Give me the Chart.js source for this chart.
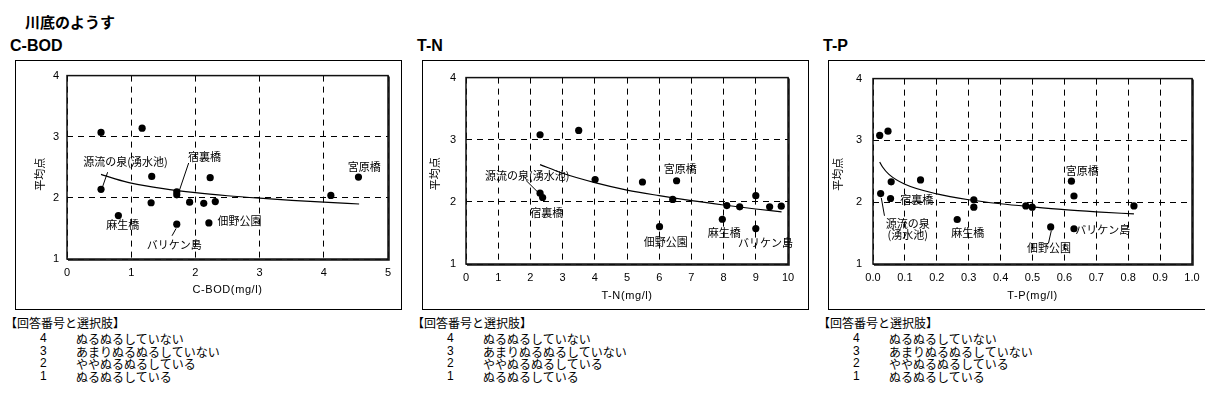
<!DOCTYPE html>
<html><head><meta charset="utf-8">
<script src="https://cdn.jsdelivr.net/npm/chart.js@4.4.1/dist/chart.umd.min.js"></script>
<style>
html,body{margin:0;padding:0;background:#fff;}
body{width:1205px;height:403px;overflow:hidden;position:relative;font-family:"Noto Sans CJK JP",sans-serif;color:#000}
.abs{position:absolute;white-space:nowrap}
.box{position:absolute;top:60px;width:387px;height:250px;border:1px solid #000;box-sizing:border-box;background:#fff}
.box canvas{display:block}
.h1{left:25px;top:13px;font:bold 15px/17px "Noto Sans CJK JP",sans-serif}
.h2{top:38px;font:bold 16px/16px "Liberation Sans",Arial,sans-serif}
.leg{font:12px/13px "Noto Sans CJK JP",sans-serif}
</style></head>
<body>
<div class="abs h1">川底のようす</div>
<div id="root"></div>
<script>
// ---- data ----
const yTicks = [1, 2, 3, 4];
const cbodXTicks = [0, 1, 2, 3, 4, 5];
const tnXTicks = [0, 1, 2, 3, 4, 5, 6, 7, 8, 9, 10];
const tpXTicks = [0, 0.1, 0.2, 0.3, 0.4, 0.5, 0.6, 0.7, 0.8, 0.9, 1.0];
const tpXLabels = ['0.0','0.1','0.2','0.3','0.4','0.5','0.6','0.7','0.8','0.9','1.0'];

const cbodX = [0.53, 1.17, 0.53, 1.32, 2.23, 1.71, 1.71, 1.31, 1.91, 2.13, 2.31, 0.80, 1.71, 2.21, 4.11, 4.54];
const cbodY = [3.07, 3.14, 2.14, 2.35, 2.33, 2.10, 2.05, 1.92, 1.93, 1.91, 1.94, 1.71, 1.57, 1.59, 2.04, 2.34];
const cbodTrendX = [0.53, 0.75, 1.0, 1.5, 2.0, 2.5, 3.0, 3.5, 4.0, 4.55];
const cbodTrendY = [2.385, 2.31, 2.24, 2.15, 2.085, 2.035, 1.995, 1.96, 1.93, 1.90];

const tnX = [2.30, 3.50, 2.30, 2.38, 4.01, 5.48, 6.54, 6.42, 8.10, 8.50, 9.00, 7.96, 9.00, 9.43, 9.79, 6.01];
const tnY = [3.08, 3.15, 2.14, 2.07, 2.36, 2.32, 2.34, 2.04, 1.94, 1.92, 2.10, 1.72, 1.57, 1.92, 1.93, 1.60];
const tnTrendX = [2.3, 3.0, 4.0, 5.0, 6.0, 7.0, 8.0, 9.0, 9.8];
const tnTrendY = [2.60, 2.46, 2.31, 2.19, 2.10, 2.02, 1.95, 1.885, 1.84];

const tpX = [0.021, 0.047, 0.024, 0.057, 0.055, 0.149, 0.316, 0.316, 0.264, 0.479, 0.499, 0.557, 0.622, 0.630, 0.630, 0.818];
const tpY = [3.08, 3.15, 2.14, 2.33, 2.06, 2.36, 2.04, 1.92, 1.72, 1.94, 1.92, 1.60, 2.34, 2.10, 1.57, 1.94];
const tpTrendX = [0.021, 0.03, 0.05, 0.1, 0.2, 0.3, 0.4, 0.5, 0.6, 0.7, 0.818];
const tpTrendY = [2.65, 2.57, 2.45, 2.29, 2.135, 2.04, 1.975, 1.925, 1.88, 1.845, 1.81];

const yTitle = '平均点';
const choiceHeader = '【回答番号と選択肢】';
const choiceNums = ['4', '3', '2', '1'];
const choiceTexts = ['ぬるぬるしていない', 'あまりぬるぬるしていない', 'ややぬるぬるしている', 'ぬるぬるしている'];

// site-name annotations (anchored in data coordinates)
const cbodNotes = [
  {t:'源流の泉(湧水池)', x:0.91, y:2.594, line:[0.633,2.42,0.547,2.16]},
  {t:'宿裏橋', x:2.14, y:2.674, line:[1.895,2.57,1.75,2.12]},
  {t:'宮原橋', x:4.63, y:2.51},
  {t:'麻生橋', x:0.867, y:1.567},
  {t:'佃野公園', x:2.685, y:1.62},
  {t:'バリケン島', x:1.67, y:1.235, line:[1.636,1.38,1.70,1.50]}
];
const tnNotes = [
  {t:'源流の泉(湧水池)', x:1.90, y:2.424, line:[1.865,2.345,2.23,2.157]},
  {t:'宿裏橋', x:2.51, y:1.82},
  {t:'宮原橋', x:6.65, y:2.53},
  {t:'佃野公園', x:6.20, y:1.36},
  {t:'麻生橋', x:8.02, y:1.50},
  {t:'バリケン島', x:9.30, y:1.345}
];
const tpNotes = [
  {t:'源流の泉', x:0.109, y:1.65},
  {t:'(湧水池)', x:0.109, y:1.48, line:[0.036,1.78,0.026,2.07]},
  {t:'宿裏橋', x:0.1375, y:2.04},
  {t:'麻生橋', x:0.297, y:1.50},
  {t:'宮原橋', x:0.656, y:2.50},
  {t:'佃野公園', x:0.552, y:1.26, line:[0.55,1.335,0.559,1.54]},
  {t:'バリケン島', x:0.72, y:1.56}
];

// ---- layout ----
const panels = [
  {name:'C-BOD', left:15, xs:cbodX, ys:cbodY, tx:cbodTrendX, ty:cbodTrendY, ticks:cbodXTicks, labels:null,
   min:0, max:5, notes:cbodNotes, xTitle:'C-BOD(mg/l)', yw:51, xh:50, padTop:11, padRight:13, yPad:8, xTitleOff:30.5, yTitleOff:27, yTitleDy:7},
  {name:'T-N', left:422, xs:tnX, ys:tnY, tx:tnTrendX, ty:tnTrendY, ticks:tnXTicks, labels:null,
   min:0, max:10, notes:tnNotes, xTitle:'T-N(mg/l)', yw:43, xh:45, padTop:13, padRight:20, yPad:10, xTitleOff:31.5, yTitleOff:31, yTitleDy:3},
  {name:'T-P', left:828, xs:tpX, ys:tpY, tx:tpTrendX, ty:tpTrendY, ticks:tpXTicks, labels:tpXLabels,
   min:0, max:1, notes:tpNotes, xTitle:'T-P(mg/l)', yw:44, xh:45, padTop:13, padRight:22, yPad:11, xTitleOff:31.5, yTitleOff:35, yTitleDy:3}
];

const root = document.getElementById('root');
const tickFont = {family:'"Liberation Sans", Arial, sans-serif', size:11};

panels.forEach((p, idx) => {
  const h = document.createElement('div');
  h.className = 'abs h2'; h.style.left = (p.left - 5) + 'px'; h.textContent = p.name;
  root.appendChild(h);

  const box = document.createElement('div');
  box.className = 'box'; box.style.left = p.left + 'px';
  const cv = document.createElement('canvas');
  cv.width = 385; cv.height = 248; cv.style.width = '385px'; cv.style.height = '248px';
  box.appendChild(cv); root.appendChild(box);

  const hd = document.createElement('div');
  hd.className = 'abs leg'; hd.style.left = (p.left - 10) + 'px'; hd.style.top = '316px';
  hd.style.lineHeight = '14px'; hd.textContent = choiceHeader; root.appendChild(hd);
  choiceNums.forEach((n, i) => {
    const a = document.createElement('div');
    a.className = 'abs leg'; a.style.left = (p.left + 25) + 'px'; a.style.top = (332 + i * 12.5) + 'px';
    a.style.fontFamily = '"Liberation Sans", Arial, sans-serif';
    a.textContent = n; root.appendChild(a);
    const b = document.createElement('div');
    b.className = 'abs leg'; b.style.left = (p.left + 61) + 'px'; b.style.top = (332 + i * 12.5) + 'px';
    b.textContent = choiceTexts[i]; root.appendChild(b);
  });

  const overlay = {
    id: 'overlay' + idx,
    afterDraw(chart) {
      const {ctx, chartArea: a, scales: {x, y}} = chart;
      ctx.save();
      // plot frame
      ctx.strokeStyle = '#111'; ctx.lineWidth = 1.5; ctx.setLineDash([]);
      ctx.strokeRect(a.left, a.top, a.right - a.left, a.bottom - a.top);
      ctx.lineWidth = 1.5;
      ctx.beginPath(); ctx.moveTo(a.right + 1, a.top + 1); ctx.lineTo(a.right + 1, a.bottom + 1); ctx.lineTo(a.left + 1, a.bottom + 1); ctx.stroke();
      // notes
      ctx.fillStyle = '#000'; ctx.strokeStyle = '#000'; ctx.lineWidth = 1;
      ctx.font = '11px "Noto Sans CJK JP", sans-serif';
      ctx.textAlign = 'center'; ctx.textBaseline = 'middle';
      p.notes.forEach(n => {
        ctx.fillText(n.t, x.getPixelForValue(n.x), y.getPixelForValue(n.y));
        if (n.line) {
          ctx.beginPath();
          ctx.moveTo(x.getPixelForValue(n.line[0]), y.getPixelForValue(n.line[1]));
          ctx.lineTo(x.getPixelForValue(n.line[2]), y.getPixelForValue(n.line[3]));
          ctx.stroke();
        }
      });
      // axis titles
      ctx.font = '11px "Liberation Sans", Arial, sans-serif';
      try { ctx.letterSpacing = '0.6px'; } catch (e) {}
      ctx.fillText(p.xTitle, (a.left + a.right) / 2, a.bottom + p.xTitleOff);
      try { ctx.letterSpacing = '0px'; } catch (e) {}
      ctx.font = '11px "Noto Sans CJK JP", sans-serif';
      ctx.translate(a.left - p.yTitleOff, (a.top + a.bottom) / 2 + p.yTitleDy);
      ctx.rotate(-Math.PI / 2);
      ctx.fillText(yTitle, 0, 0);
      ctx.restore();
    }
  };

  new Chart(cv, {
    type: 'scatter',
    data: {datasets: [
      {data: p.xs.map((v, i) => ({x: v, y: p.ys[i]})), pointRadius: 3.6, pointHoverRadius: 3.6,
       backgroundColor: '#000', borderColor: '#000', borderWidth: 0, order: 0},
      {type: 'line', data: p.tx.map((v, i) => ({x: v, y: p.ty[i]})), showLine: true, pointRadius: 0,
       borderColor: '#000', borderWidth: 1.2, cubicInterpolationMode: 'monotone', fill: false, order: 1}
    ]},
    options: {
      responsive: false, animation: false, events: [],
      layout: {padding: {top: p.padTop, right: p.padRight, left: 0, bottom: 0}},
      plugins: {legend: {display: false}, tooltip: {enabled: false}},
      scales: {
        x: {type: 'linear', min: p.min, max: p.max,
            afterBuildTicks: s => { s.ticks = p.ticks.map(v => ({value: v})); },
            afterFit: s => { s.height = p.xh; },
            ticks: {font: tickFont, color: '#000', padding: 7, maxRotation: 0, autoSkip: false,
                    callback: (v, i) => p.labels ? p.labels[i] : String(v)},
            grid: {color: '#000', lineWidth: 1, drawTicks: false, borderDash: [6, 5]},
            border: {display: false, dash: [6, 5]}},
        y: {type: 'linear', min: 1, max: 4,
            afterBuildTicks: s => { s.ticks = yTicks.map(v => ({value: v})); },
            afterFit: s => { s.width = p.yw; },
            ticks: {font: tickFont, color: '#000', padding: p.yPad, callback: v => String(v)},
            grid: {color: '#000', lineWidth: 1, drawTicks: false, borderDash: [6, 5]},
            border: {display: false, dash: [6, 5]}}
      }
    },
    plugins: [overlay]
  });
});
</script>
</body></html>
